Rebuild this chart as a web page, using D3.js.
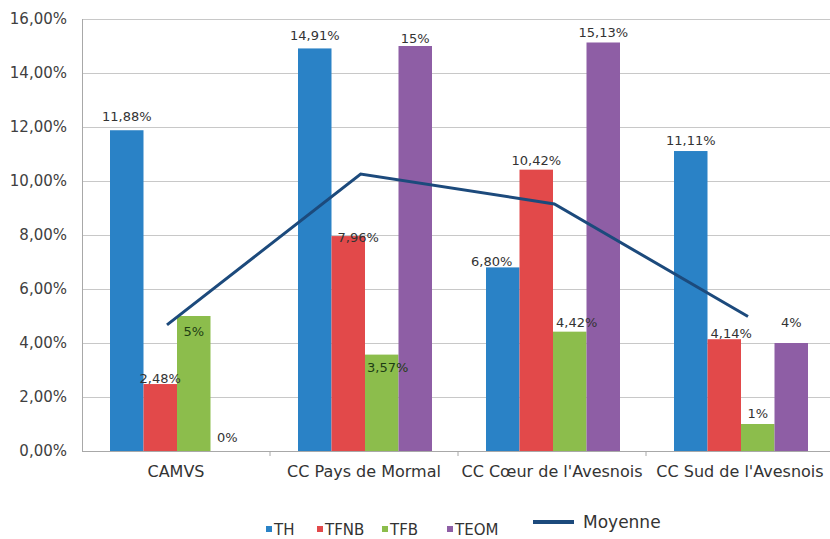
<!DOCTYPE html>
<html>
  <head>
    <meta charset="utf-8" />
    <script src="https://d3js.org/d3.v7.min.js"></script>
    <style>
      body { margin: 0; background: #fff; }
      text { font-family: "DejaVu Sans", "Liberation Sans", sans-serif; }
    </style>
  </head>
  <body>
    <div id="chart"></div>
    <script>
      // data
      var categories = ["CAMVS", "CC Pays de Mormal", "CC Cœur de l'Avesnois", "CC Sud de l'Avesnois"];
      var seriesNames = ["TH", "TFNB", "TFB", "TEOM"];
      var th = [11.88, 14.91, 6.80, 11.11];
      var tfnb = [2.48, 7.96, 10.42, 4.14];
      var tfb = [5, 3.57, 4.42, 1];
      var teom = [0, 15, 15.13, 4];
      var labelsTH = ["11,88%", "14,91%", "6,80%", "11,11%"];
      var labelsTFNB = ["2,48%", "7,96%", "10,42%", "4,14%"];
      var labelsTFB = ["5%", "3,57%", "4,42%", "1%"];
      var labelsTEOM = ["0%", "15%", "15,13%", "4%"];
      var moyenne = [4.67, 10.26, 9.15, 4.98];
      var yTicks = [0, 2, 4, 6, 8, 10, 12, 14, 16];
      var yTickLabels = ["0,00%", "2,00%", "4,00%", "6,00%", "8,00%", "10,00%", "12,00%", "14,00%", "16,00%"];

      var colors = ["#2a82c6", "#e2494a", "#8cbd4c", "#8e5ea5"];
      var values = [th, tfnb, tfb, teom];
      var labels = [labelsTH, labelsTFNB, labelsTFB, labelsTEOM];

      // hand placed data labels in the original: offset from bar centre / bar top
      var labelDx = [[0, 0, -11, 0], [0, 10, 0, 7], [0, 6, 7, 0], [0, 0, 0, 0]];
      var labelDy = [[-9, -8, -1, -6], [-1, 6, -5, -1], [20, 17, -5, -6], [-9, -3, -5, -16]];

      var width = 830, height = 539;
      var svg = d3.select("#chart").append("svg")
        .attr("width", width).attr("height", height);

      var x = d3.scaleBand().domain(categories).range([82, 834]);
      var x1 = d3.scaleBand().domain(seriesNames).range([28, 188 - 26]);
      var xLine = d3.scalePoint().domain(categories).range([167, 748]);
      var y = d3.scaleLinear().domain([0, 16]).range([451, 19]);

      // grid
      svg.append("g").selectAll("line")
        .data(yTicks.slice(1))
        .enter().append("line")
        .attr("x1", 82).attr("x2", 834)
        .attr("y1", function (d) { return y(d) + 0.5; })
        .attr("y2", function (d) { return y(d) + 0.5; })
        .attr("stroke", "#c8c8c8").attr("stroke-width", 1);

      // y axis labels
      svg.append("g").selectAll("text")
        .data(yTicks)
        .enter().append("text")
        .attr("x", 67)
        .attr("y", function (d) { return y(d) + 5; })
        .attr("text-anchor", "end")
        .attr("font-size", 15)
        .attr("fill", "#404040")
        .text(function (d, i) { return yTickLabels[i]; });

      svg.append("line")
        .attr("x1", 82.5).attr("x2", 82.5).attr("y1", 19).attr("y2", 451)
        .attr("stroke", "#a8a8a8");

      // bars
      seriesNames.forEach(function (s, si) {
        var g = svg.append("g");
        g.selectAll("rect")
          .data(values[si])
          .enter().append("rect")
          .attr("x", function (d, i) { return x(categories[i]) + x1(s); })
          .attr("width", x1.bandwidth())
          .attr("y", function (d) { return y(d); })
          .attr("height", function (d) { return y(0) - y(d); })
          .attr("fill", colors[si]);
      });

      // x axis
      svg.append("line")
        .attr("x1", 82).attr("x2", 834).attr("y1", 451.5).attr("y2", 451.5)
        .attr("stroke", "#a8a8a8");
      svg.append("g").selectAll("line")
        .data(categories)
        .enter().append("line")
        .attr("x1", function (d) { return x(d) + x.bandwidth(); })
        .attr("x2", function (d) { return x(d) + x.bandwidth(); })
        .attr("y1", 451).attr("y2", 456)
        .attr("stroke", "#a8a8a8");
      svg.append("g").selectAll("text")
        .data(categories)
        .enter().append("text")
        .attr("x", function (d) { return x(d) + x.bandwidth() / 2; })
        .attr("y", 477)
        .attr("text-anchor", "middle")
        .attr("font-size", 16)
        .attr("fill", "#333")
        .text(function (d) { return d; });

      // moyenne line
      var line = d3.line()
        .x(function (d, i) { return xLine(categories[i]); })
        .y(function (d) { return y(d); });
      svg.append("path")
        .datum(moyenne)
        .attr("d", line)
        .attr("fill", "none")
        .attr("stroke", "#1c4a7c")
        .attr("stroke-width", 3);

      // data labels
      seriesNames.forEach(function (s, si) {
        svg.append("g").selectAll("text")
          .data(values[si])
          .enter().append("text")
          .attr("x", function (d, i) {
            return x(categories[i]) + x1(s) + x1.bandwidth() / 2 + labelDx[si][i];
          })
          .attr("y", function (d, i) { return y(d) + labelDy[si][i]; })
          .attr("text-anchor", "middle")
          .attr("font-size", 13)
          .attr("fill", function (d, i) { return si === 2 && i < 2 ? "#1e3d14" : "#333"; })
          .text(function (d, i) { return labels[si][i]; });
      });

      // legend
      var legendX = [266, 317, 382, 447];
      var lg = svg.append("g");
      seriesNames.forEach(function (s, si) {
        lg.append("rect")
          .attr("x", legendX[si]).attr("y", 526)
          .attr("width", 6).attr("height", 6)
          .attr("fill", colors[si]);
        lg.append("text")
          .attr("x", legendX[si] + 8).attr("y", 535)
          .attr("font-size", 15)
          .attr("fill", "#333")
          .text(s);
      });
      lg.append("line")
        .attr("x1", 533).attr("x2", 574).attr("y1", 522).attr("y2", 522)
        .attr("stroke", "#1c4a7c").attr("stroke-width", 4);
      lg.append("text")
        .attr("x", 583).attr("y", 528)
        .attr("font-size", 17)
        .attr("fill", "#333")
        .text("Moyenne");
    </script>
  </body>
</html>
